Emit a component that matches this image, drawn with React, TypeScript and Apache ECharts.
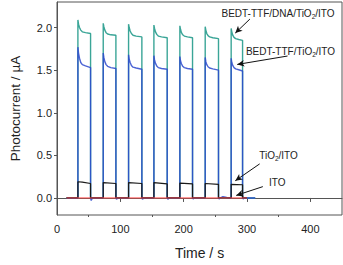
import React, { useEffect, useRef } from "react";
import * as echarts from "echarts";

// Photocurrent response (µA) versus time (s) for four electrodes under chopped light.
const dnaFilm: [number, number][] = [
  [15, 0], [33, 0],
  [33, 2.09], [34, 2.04], [35.5, 2.0], [37.5, 1.97], [40, 1.95], [45, 1.94], [53, 1.93], [53, 0],
  [73, 0], [73, 2.05], [74, 2.01], [75.5, 1.97], [77.5, 1.94], [80, 1.925], [85, 1.915], [93, 1.91], [93, 0],
  [113, 0], [113, 2.04], [114, 2.0], [115.5, 1.96], [117.5, 1.93], [120, 1.91], [125, 1.9], [134, 1.89], [134, 0],
  [153, 0], [153, 2.03], [154, 1.99], [155.5, 1.95], [157.5, 1.92], [160, 1.9], [165, 1.89], [174, 1.88], [174, 0],
  [194, 0], [194, 2.02], [195, 1.98], [196.5, 1.94], [198.5, 1.915], [201, 1.9], [206, 1.89], [214, 1.88], [214, 0],
  [234, 0], [234, 2.01], [235, 1.97], [236.5, 1.93], [238.5, 1.905], [241, 1.89], [246, 1.88], [255, 1.87], [255, 0],
  [275, 0], [275, 1.99], [276, 1.95], [277.5, 1.91], [279.5, 1.885], [282, 1.87], [287, 1.86], [293, 1.85], [293, 0],
  [313, 0],
];

const ttfFilm: [number, number][] = [
  [15, 0], [28, -0.005], [33, 0],
  [33, 1.77], [34, 1.7], [35.5, 1.64], [37.5, 1.59], [40, 1.565], [45, 1.55], [53, 1.53], [53, 0], [54, -0.03], [56, 0],
  [73, 0], [73, 1.7], [74, 1.65], [75.5, 1.6], [77.5, 1.565], [80, 1.545], [85, 1.53], [93, 1.52], [93, 0], [94, -0.015], [96, 0],
  [113, 0], [113, 1.68], [114, 1.63], [115.5, 1.59], [117.5, 1.555], [120, 1.535], [125, 1.525], [134, 1.51], [134, 0], [135, -0.015], [137, 0],
  [153, 0], [153, 1.67], [154, 1.62], [155.5, 1.58], [157.5, 1.55], [160, 1.53], [165, 1.52], [174, 1.51], [174, 0], [175, -0.015], [177, 0],
  [194, 0], [194, 1.66], [195, 1.61], [196.5, 1.575], [198.5, 1.545], [201, 1.53], [206, 1.52], [214, 1.51], [214, 0], [215, -0.01], [217, 0],
  [234, 0], [234, 1.65], [235, 1.6], [236.5, 1.565], [238.5, 1.54], [241, 1.525], [246, 1.515], [255, 1.5], [255, 0], [256, -0.01], [258, 0],
  [262, 0.015], [266, 0.01], [270, 0],
  [275, 0], [275, 1.64], [276, 1.59], [277.5, 1.555], [279.5, 1.53], [282, 1.515], [287, 1.505], [293, 1.49], [293, 0], [294, -0.01], [296, 0],
  [313, 0],
];

const tio2Film: [number, number][] = [
  [15, 0], [33, 0], [33, 0.19], [40, 0.185], [53, 0.17], [53, 0],
  [73, 0], [73, 0.18], [93, 0.17], [93, 0],
  [113, 0], [113, 0.18], [134, 0.17], [134, 0],
  [153, 0], [153, 0.18], [174, 0.165], [174, 0],
  [194, 0], [194, 0.175], [214, 0.165], [214, 0],
  [234, 0], [234, 0.17], [255, 0.16], [255, 0],
  [275, 0], [275, 0.16], [293, 0.155], [293, 0],
  [300, 0],
];

const bareIto: [number, number][] = [
  [15, 0], [300, 0],
];

const xMajorTicks = [0, 100, 200, 300, 400];
const xMinorTicks = [50, 150, 250, 350];
const yMajorTicks = [0, 0.5, 1.0, 1.5, 2.0];

// Arrow start/end in data units (time, current)
const arrowDna: [number, number][] = [[304.6, 2.1], [281.5, 1.935]];
const arrowTtf: [number, number][] = [[364, 1.666], [284.6, 1.567]];
const arrowTio2: [number, number][] = [[320, 0.4], [281.5, 0.202]];
const arrowIto: [number, number][] = [[325, 0.133], [283, 0.03]];

const FONT = "Liberation Sans, Arial, sans-serif";
const AXIS_COLOR = "#555";

function arrow(pts: [number, number][]) {
  return [
    { coord: pts[0], symbol: "none" },
    { coord: pts[1], symbol: "arrow" },
  ];
}

function subLabel(pre: string, post: string, x: number, y: number) {
  return {
    type: "text",
    x,
    y,
    style: {
      text: `{n|${pre}}{s|2}{n|${post}}`,
      align: "center",
      verticalAlign: "middle",
      rich: {
        n: { fontFamily: FONT, fontSize: 10, fill: "#222" },
        s: { fontFamily: FONT, fontSize: 6.5, fill: "#222", padding: [6, 0, 0, 0] },
      },
    },
  };
}

export default function App() {
  const ref = useRef<HTMLDivElement>(null);

  useEffect(() => {
    if (!ref.current) return;
    const chart = echarts.init(ref.current, null, { renderer: "svg" });
    chart.setOption({
      animation: false,
      backgroundColor: "#fff",
      grid: {
        left: 49,
        right: 1,
        top: 2,
        bottom: 45,
        show: true,
        borderColor: AXIS_COLOR,
        borderWidth: 1,
      },
      xAxis: [
        {
          type: "value",
          min: 0,
          max: 450,
          name: "Time / s",
          nameLocation: "middle",
          nameGap: 31,
          nameTextStyle: { fontFamily: FONT, fontSize: 14, color: "#222" },
          axisLine: { lineStyle: { color: AXIS_COLOR } },
          axisTick: { show: true, length: 4, customValues: xMajorTicks, lineStyle: { color: AXIS_COLOR } },
          axisLabel: { customValues: xMajorTicks, fontFamily: FONT, fontSize: 11, color: "#222", margin: 8 },
          splitLine: { show: false },
        },
        {
          type: "value",
          min: 0,
          max: 450,
          position: "bottom",
          axisLine: { show: false },
          axisTick: { show: true, length: 2, customValues: xMinorTicks, lineStyle: { color: AXIS_COLOR } },
          axisLabel: { show: false },
          splitLine: { show: false },
        },
      ],
      yAxis: {
        type: "value",
        min: -0.2,
        max: 2.3,
        name: "Photocurrent / µA",
        nameLocation: "middle",
        nameGap: 35,
        nameTextStyle: { fontFamily: FONT, fontSize: 13.5, color: "#222" },
        axisLine: { show: true, lineStyle: { color: AXIS_COLOR } },
        axisTick: { show: true, length: 3, customValues: yMajorTicks, lineStyle: { color: AXIS_COLOR } },
        axisLabel: {
          customValues: yMajorTicks,
          fontFamily: FONT,
          fontSize: 11,
          color: "#222",
          margin: 5,
          formatter: (v: number) => v.toFixed(1),
        },
        splitLine: { show: false },
      },
      series: [
        {
          name: "BEDT-TTF/DNA/TiO2/ITO",
          type: "line",
          data: dnaFilm,
          showSymbol: false,
          lineStyle: { color: "#3aa597", width: 1.4 },
          markLine: {
            silent: true,
            symbolSize: [5, 7],
            lineStyle: { color: "#111", width: 1, type: "solid" },
            label: { show: false },
            data: [arrow(arrowDna), arrow(arrowTtf), arrow(arrowTio2), arrow(arrowIto)],
          },
        },
        {
          name: "BEDT-TTF/TiO2/ITO",
          type: "line",
          data: ttfFilm,
          showSymbol: false,
          lineStyle: { color: "#2b48cc", width: 1.4, opacity: 0.85 },
        },
        {
          name: "TiO2/ITO",
          type: "line",
          data: tio2Film,
          showSymbol: false,
          lineStyle: { color: "#1a1a1a", width: 1.2 },
        },
        {
          name: "ITO",
          type: "line",
          data: bareIto,
          showSymbol: false,
          lineStyle: { color: "#ff4545", width: 1 },
        },
      ],
      graphic: [
        subLabel("BEDT-TTF/DNA/TiO", "/ITO", 278, 13.5),
        subLabel("BEDT-TTF/TiO", "/ITO", 290.5, 51),
        subLabel("TiO", "/ITO", 278.5, 155.5),
        {
          type: "text",
          x: 277.3,
          y: 182.7,
          style: {
            text: "ITO",
            align: "center",
            verticalAlign: "middle",
            fontFamily: FONT,
            fontSize: 10,
            fill: "#222",
          },
        },
      ],
    });
    return () => chart.dispose();
  }, []);

  return (
    <div
      ref={ref}
      style={{ position: "absolute", left: 0, top: 0, width: 343, height: 265 }}
    />
  );
}
